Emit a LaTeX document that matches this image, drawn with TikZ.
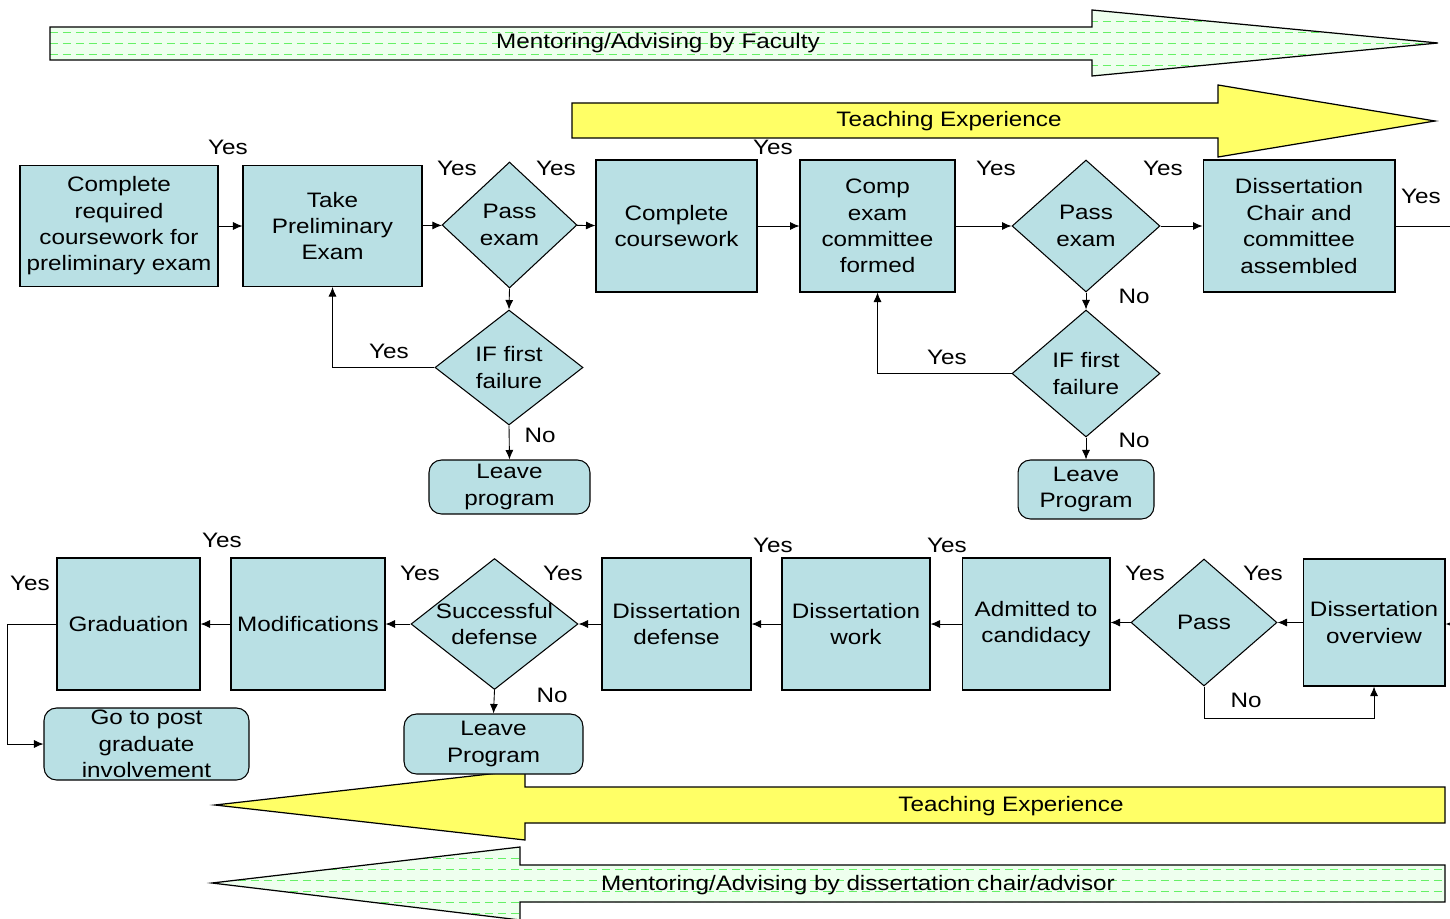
\documentclass[tikz,border=0pt]{standalone}
\usepackage{fontspec}
\setmainfont[FakeStretch=1.16]{Liberation Sans}
\usetikzlibrary{shapes.geometric,arrows.meta}
\definecolor{boxblue}{RGB}{185,224,228}
\definecolor{teachyellow}{RGB}{255,255,102}
\definecolor{mentorbg}{RGB}{238,255,238}
\definecolor{mentordash}{RGB}{102,240,102}
\tikzset{
  procbox/.style={draw, fill=boxblue, line width=0.6pt, inner sep=0pt, align=center},
  leavebox/.style={procbox, rounded corners=2.5mm},
  decision/.style={procbox, diamond, aspect=1},
  flow/.style={-{Latex[length=1.9mm,width=1.6mm]}, line width=0.5pt},
  ans/.style={inner sep=0pt}
}
\begin{document}
\begin{tikzpicture}[x=0.02cm, y=-0.02cm, font=\fontsize{11.9}{15}\selectfont]
    \useasboundingbox (0,0) rectangle (1450,919);
    % mentoring and teaching arrows
    \begin{scope}
        \clip (50,27) -- (1092,27) -- (1092,10) -- (1438,43) -- (1092,76) -- (1092,60) -- (50,60) -- cycle;
        \fill[mentorbg] (0,0) rectangle (1450,90);
        \foreach \y in {21,32,...,65}
            \draw[mentordash, dash pattern=on 0.16cm off 0.1cm] (50,\y) -- (1440,\y);
    \end{scope}
    \draw[line width=0.7pt] (50,27) -- (1092,27) -- (1092,10) -- (1438,43) -- (1092,76) -- (1092,60) -- (50,60) -- cycle;
    \node (mentorfac) at (658,43) {Mentoring/Advising by Faculty};
    \draw[fill=teachyellow, line width=0.7pt] (572,103) -- (1218,103) -- (1218,85) -- (1435,121) -- (1218,157) -- (1218,138) -- (572,138) -- cycle;
    \node (teachtop) at (949,121) {Teaching Experience};
    \draw[fill=teachyellow, line width=0.7pt] (1445,787) -- (525,787) -- (525,770) -- (215,805) -- (525,840) -- (525,823) -- (1445,823) -- cycle;
    \node (teachbot) at (1011,806) {Teaching Experience};
    \begin{scope}
        \clip (1445,865) -- (520,865) -- (520,847) -- (212,883) -- (520,920) -- (520,902) -- (1445,902) -- cycle;
        \fill[mentorbg] (200,840) rectangle (1450,925);
        \foreach \y in {858,869,...,914}
            \draw[mentordash, dash pattern=on 0.16cm off 0.1cm] (212,\y) -- (1445,\y);
    \end{scope}
    \draw[line width=0.7pt] (1445,865) -- (520,865) -- (520,847) -- (212,883) -- (520,920) -- (520,902) -- (1445,902) -- cycle;
    \node (mentorchair) at (858,885) {Mentoring/Advising by dissertation chair/advisor};

    % first row
    \node[procbox, minimum width=3.96cm, minimum height=2.42cm] (prelimcw) at (119,226) {Complete\\required\\coursework for\\preliminary exam};
    \node[procbox, minimum width=3.58cm, minimum height=2.42cm] (takeprelim) at (332.5,226) {Take\\Preliminary\\Exam};
    \node[decision, minimum width=2.7cm, minimum height=2.52cm] (passprelim) at (509.5,225) {Pass\\exam};
    \node[procbox, minimum width=3.22cm, minimum height=2.64cm] (coursework) at (676.5,226) {Complete\\coursework};
    \node[procbox, minimum width=3.1cm, minimum height=2.64cm] (compcomm) at (877.5,226) {Comp\\exam\\committee\\formed};
    \node[decision, minimum width=2.96cm, minimum height=2.64cm] (passcomp) at (1086,226) {Pass\\exam};
    \node[procbox, minimum width=3.84cm, minimum height=2.64cm] (chair) at (1299,226) {Dissertation\\Chair and\\committee\\assembled};
    \coordinate (chairout) at (1452,226);

    % failures
    \node[decision, minimum width=2.96cm, minimum height=2.3cm] (failprelim) at (509,367.5) {IF first\\failure};
    \node[leavebox, minimum width=3.22cm, minimum height=1.08cm] (leaveprelim) at (509.5,487) {Leave\\program};
    \node[decision, minimum width=2.96cm, minimum height=2.54cm] (failcomp) at (1086,373.5) {IF first\\failure};
    \node[leavebox, minimum width=2.72cm, minimum height=1.18cm] (leavecomp) at (1086,489.5) {Leave\\Program};

    % second row
    \coordinate (ovin) at (1460,624);
    \node[procbox, minimum width=2.84cm, minimum height=2.54cm] (overview) at (1374,622.5) {Dissertation\\overview};
    \node[decision, minimum width=2.92cm, minimum height=2.54cm] (passov) at (1204,622.5) {Pass};
    \node[procbox, minimum width=2.96cm, minimum height=2.64cm] (candidacy) at (1036,624) {Admitted to\\candidacy};
    \node[procbox, minimum width=2.96cm, minimum height=2.64cm] (dwork) at (856,624) {Dissertation\\work};
    \node[procbox, minimum width=2.98cm, minimum height=2.64cm] (ddefense) at (676.5,624) {Dissertation\\defense};
    \node[decision, inner sep=-0.2cm, minimum width=3.34cm, minimum height=2.62cm] (sdefense) at (494.5,624) {Successful\\defense};
    \node[procbox, minimum width=3.08cm, minimum height=2.64cm] (modif) at (308,624) {Modifications};
    \node[procbox, minimum width=2.86cm, minimum height=2.64cm] (grad) at (128.5,624) {Graduation};
    \node[leavebox, minimum width=3.58cm, minimum height=1.2cm] (leavedef) at (493.5,744) {Leave\\Program};
    \node[leavebox, minimum width=4.1cm, minimum height=1.44cm] (postgrad) at (146.5,744) {Go to post\\graduate\\involvement};

    % connectors
    \draw[flow] (prelimcw) -- (takeprelim);
    \draw[flow] (takeprelim) -- (passprelim);
    \draw[flow] (passprelim) -- (coursework);
    \draw[flow] (coursework) -- (compcomm);
    \draw[flow] (compcomm) -- (passcomp);
    \draw[flow] (passcomp) -- (chair);
    \draw (chair) -- (chairout);
    \draw[flow] (passprelim.south) -- (failprelim.north);
    \draw[flow] (failprelim.west) -| (takeprelim.south);
    \draw[flow] (failprelim.south) -- (leaveprelim.north);
    \draw[flow] (passcomp.south) -- (failcomp.north);
    \draw[flow] (failcomp.west) -| (compcomm.south);
    \draw[flow] (failcomp.south) -- (leavecomp.north);
    \draw[flow] (ovin) -- (overview.east |- ovin);
    \draw[flow] (overview.west |- passov.east) -- (passov.east);
    \draw[flow] (passov.south) -- ++(0,32) -| (overview.south);
    \draw[flow] (passov.west) -- (candidacy.east |- passov.west);
    \draw[flow] (candidacy) -- (dwork);
    \draw[flow] (dwork) -- (ddefense);
    \draw[flow] (ddefense) -- (sdefense);
    \draw[flow] (sdefense) -- (modif);
    \draw[flow] (modif) -- (grad);
    \draw[flow] (sdefense.south) -- (leavedef.north);
    \draw[flow] (grad.west) -- ++(-49,0) |- (postgrad.west);

    % answers
    \node[ans] (a1) at (228,147) {Yes};
    \node[ans] (a2) at (457,168) {Yes};
    \node[ans] (a3) at (556,168) {Yes};
    \node[ans] (a4) at (773,147) {Yes};
    \node[ans] (a5) at (996,168) {Yes};
    \node[ans] (a6) at (1163,168) {Yes};
    \node[ans] (a7) at (1421,196) {Yes};
    \node[ans] (a8) at (389,351) {Yes};
    \node[ans] (a9) at (540,435) {No};
    \node[ans] (a10) at (1134,296) {No};
    \node[ans] (a11) at (947,357) {Yes};
    \node[ans] (a12) at (1134,440) {No};
    \node[ans] (a13) at (1263,573) {Yes};
    \node[ans] (a14) at (1246,700) {No};
    \node[ans] (a15) at (1145,573) {Yes};
    \node[ans] (a16) at (947,545) {Yes};
    \node[ans] (a17) at (773,545) {Yes};
    \node[ans] (a18) at (563,573) {Yes};
    \node[ans] (a19) at (420,573) {Yes};
    \node[ans] (a20) at (222,540) {Yes};
    \node[ans] (a21) at (30,583) {Yes};
    \node[ans] (a22) at (552,695) {No};
\end{tikzpicture}
\end{document}
